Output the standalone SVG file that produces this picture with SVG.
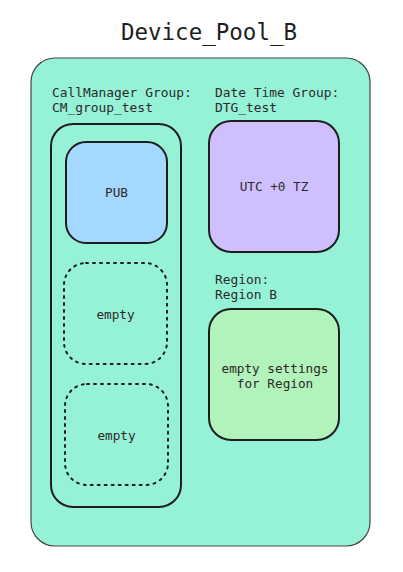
<svg xmlns="http://www.w3.org/2000/svg" width="403" height="572" viewBox="0 0 403 572">
<style>
text{font-family:"DejaVu Sans Mono","Liberation Mono",monospace;fill:#1e1e1e}
.lbl{font-size:12.9px;fill:#2a2a2a}
.c{text-anchor:middle;font-size:12.7px;fill:#2a2a2a}
.box{stroke:#1e1e1e;stroke-width:2}
.dot{fill:none;stroke:#1e1e1e;stroke-width:2;stroke-dasharray:2 5;stroke-linecap:round}
</style>
<rect width="403" height="572" fill="#ffffff"/>
<text x="209" y="40" text-anchor="middle" style="font-size:22.5px">Device_Pool_B</text>
<g id="pool">
<rect x="31" y="58" width="339" height="488" rx="24" fill="#96f2d7" stroke="#444" stroke-width="1.2"/>
<text class="lbl" x="52" y="97">CallManager Group:</text>
<text class="lbl" x="52" y="112">CM_group_test</text>
<text class="lbl" x="215" y="97">Date Time Group:</text>
<text class="lbl" x="215" y="112">DTG_test</text>
<text class="lbl" x="215" y="284">Region:</text>
<text class="lbl" x="215" y="299">Region B</text>
</g>
<g id="cmgroup">
<rect x="51" y="124" width="130" height="383" rx="22" fill="none" class="box"/>
</g>
<g id="pub">
<rect x="66" y="142" width="101" height="101" rx="20" fill="#a5d8ff" class="box"/>
<text class="c" x="116.5" y="197">PUB</text>
</g>
<g id="empty1">
<rect x="64" y="263" width="103" height="101" rx="22" class="dot"/>
<text class="c" x="115.5" y="319">empty</text>
</g>
<g id="empty2">
<rect x="65" y="384" width="103" height="101" rx="22" class="dot"/>
<text class="c" x="116.5" y="440">empty</text>
</g>
<g id="utc">
<rect x="209" y="121" width="130" height="131" rx="22" fill="#d0bfff" class="box"/>
<text class="c" x="274" y="191">UTC +0 TZ</text>
</g>
<g id="region">
<rect x="209" y="309" width="130" height="131" rx="22" fill="#b2f2bb" class="box"/>
<text class="c" x="275" y="373">empty settings</text>
<text class="c" x="275" y="388">for Region</text>
</g>
<g id="connectors"></g>
</svg>
